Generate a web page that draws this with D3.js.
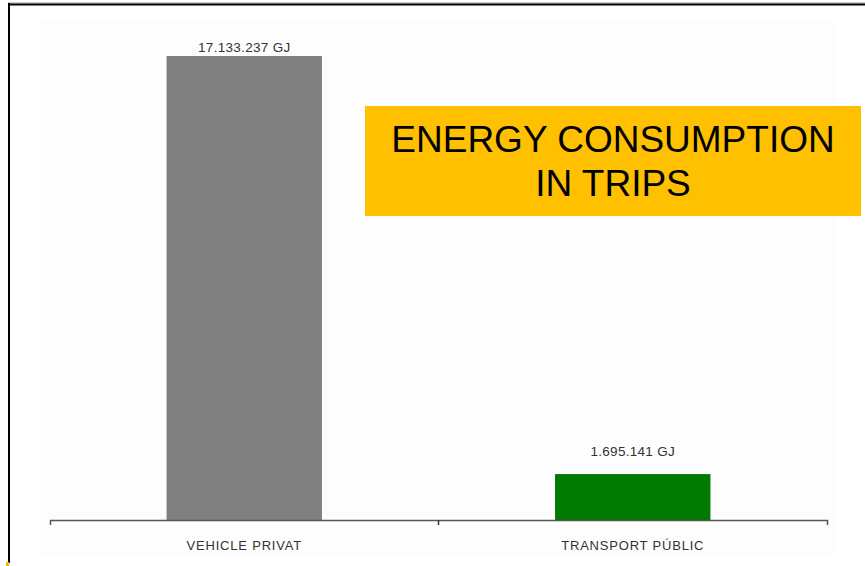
<!DOCTYPE html>
<html>
<head>
<meta charset="utf-8">
<script src="https://cdn.jsdelivr.net/npm/d3@7/dist/d3.min.js"></script>
<style>
  html, body { margin: 0; padding: 0; background: #fff; }
  svg { display: block; }
</style>
</head>
<body>
<svg id="chart" width="865" height="566"></svg>
<script>
// Energy consumed by trip mode
const categories = ["VEHICLE PRIVAT", "TRANSPORT PÚBLIC"];
const values = [17133237, 1695141];
const valueLabels = ["17.133.237 GJ", "1.695.141 GJ"];
const barColors = ["#808080", "#007a00"];
const titleLines = ["ENERGY CONSUMPTION", "IN TRIPS"];

const svg = d3.select("#chart");
const W = 865, H = 566;

// slide frame
svg.append("rect").attr("x", 0).attr("y", 0).attr("width", W).attr("height", H).attr("fill", "#fff");
svg.append("rect").attr("x", 40).attr("y", 20).attr("width", 795).attr("height", 535).attr("fill", "#fdfdfd");
svg.append("line").attr("x1", 8).attr("x2", W).attr("y1", 3).attr("y2", 3).attr("stroke", "#999").attr("stroke-width", 1);
svg.append("line").attr("x1", 8).attr("x2", W).attr("y1", 4.5).attr("y2", 4.5).attr("stroke", "#000").attr("stroke-width", 2);
svg.append("line").attr("x1", 9).attr("x2", 9).attr("y1", 3).attr("y2", 563).attr("stroke", "#000").attr("stroke-width", 2);
svg.append("rect").attr("x", 6).attr("y", 562).attr("width", 3).attr("height", 4).attr("fill", "#f5b800");

const x = d3.scaleBand().domain(categories).range([50, 827]).paddingInner(0).paddingOuter(0);
const y = d3.scaleLinear().domain([0, d3.max(values)]).range([520, 56]);
const barFrac = 0.4;
const bw = x.bandwidth() * barFrac;

const data = categories.map((c, i) => ({ c, v: values[i], label: valueLabels[i], color: barColors[i] }));

svg.append("g").selectAll("rect").data(data).join("rect")
  .attr("x", d => x(d.c) + (x.bandwidth() - bw) / 2)
  .attr("y", d => y(d.v))
  .attr("width", bw)
  .attr("height", d => y(0) - y(d.v))
  .attr("fill", d => d.color);

svg.append("g").selectAll("text").data(data).join("text")
  .attr("x", d => x(d.c) + x.bandwidth() / 2)
  .attr("y", d => Math.max(y(d.v) - 18, 52))
  .attr("text-anchor", "middle")
  .attr("font-family", "Liberation Sans, Arial, sans-serif")
  .attr("font-size", 13.5)
  .attr("letter-spacing", "0.3px")
  .attr("fill", "#333")
  .text(d => d.label);

// category axis
const axis = svg.append("g").attr("transform", `translate(0,${y(0)})`)
  .call(d3.axisBottom(x).tickSizeInner(0).tickSizeOuter(5).tickPadding(21));
axis.select(".domain").attr("stroke", "#555").attr("stroke-width", 1.5);
axis.selectAll("text")
  .attr("font-family", "Liberation Sans, Arial, sans-serif")
  .attr("font-size", 13)
  .attr("letter-spacing", "0.8px")
  .attr("fill", "#333");
// divider tick between the two categories
axis.append("line")
  .attr("x1", x(categories[1])).attr("x2", x(categories[1]))
  .attr("y1", 0).attr("y2", 5)
  .attr("stroke", "#333").attr("stroke-width", 1.5);

// title banner
const tg = svg.append("g");
tg.append("rect").attr("x", 365).attr("y", 106).attr("width", 496).attr("height", 110).attr("fill", "#ffc000");
tg.selectAll("text").data(titleLines).join("text")
  .attr("x", 613)
  .attr("y", (d, i) => 152 + i * 44)
  .attr("text-anchor", "middle")
  .attr("font-family", "Liberation Sans, Arial, sans-serif")
  .attr("font-size", 37)
  .attr("fill", "#000")
  .text(d => d);
</script>
</body>
</html>
